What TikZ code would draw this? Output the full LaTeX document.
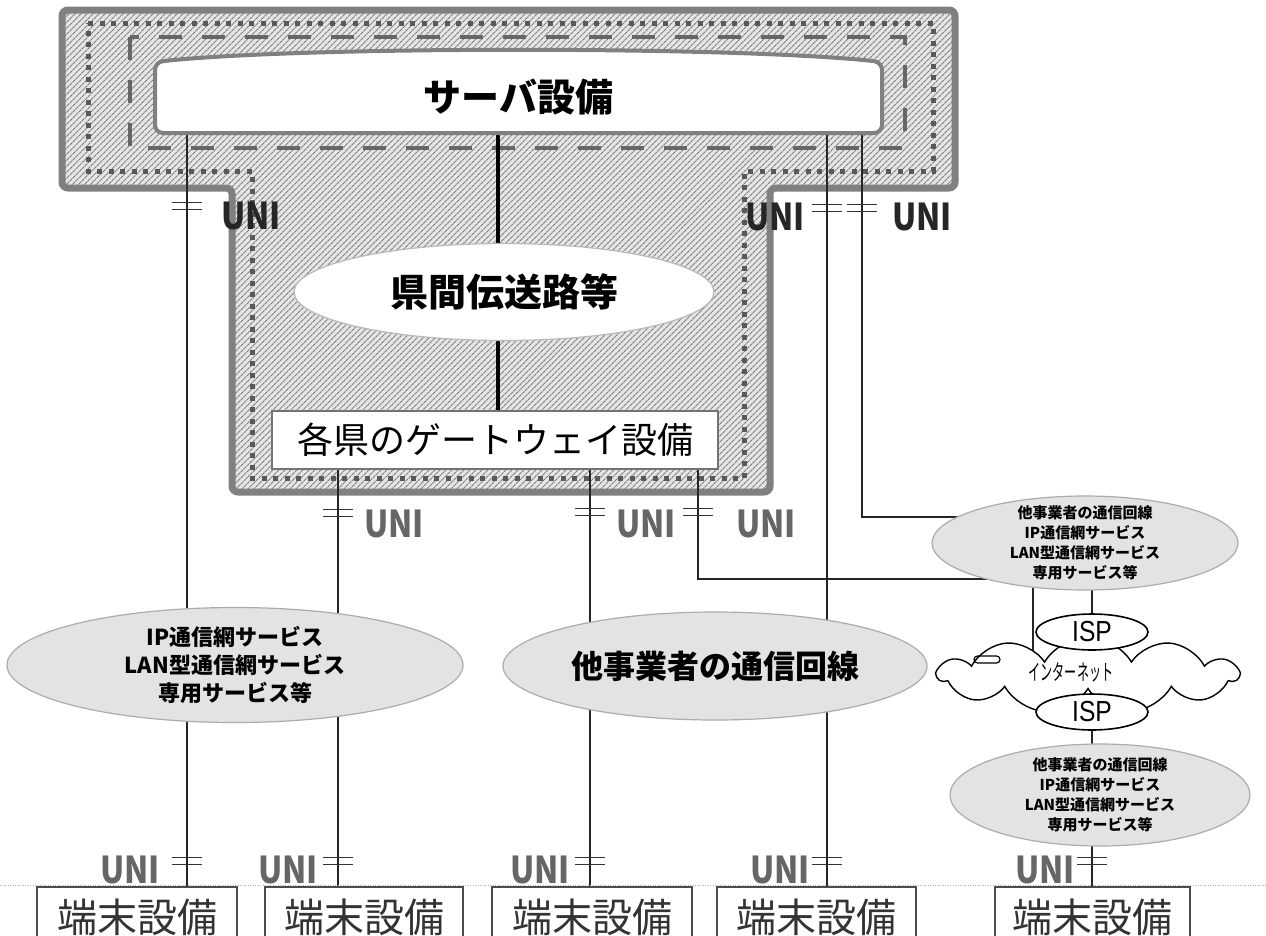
\documentclass[tikz,border=0pt]{standalone}
\usepackage{fontspec}
\newfontfamily\jp{Noto Sans CJK JP}
\newfontfamily\jpn{Noto Sans CJK JP}[FakeStretch=0.86]
\newfontfamily\lsans{Liberation Sans}[FakeStretch=0.85]
\usetikzlibrary{shapes.geometric,shapes.symbols,patterns.meta}
\pgfdeclarelayer{back}
\pgfdeclarelayer{wires}
\pgfsetlayers{back,wires,main}
\begin{document}
\begin{tikzpicture}[x=1pt,y=-1pt,
  wire/.style={line width=1.6pt, black!85},
  spine/.style={line width=4pt, black},
  netell/.style={ellipse, fill=gray!22, draw=gray!65, line width=1.2pt, inner sep=0pt},
  ispell/.style={ellipse, fill=white, draw=black, line width=1.6pt, minimum width=112pt, minimum height=36pt, inner sep=0pt, font=\lsans\fontsize{29}{29}\selectfont},
  termbox/.style={draw=black!70, line width=1.6pt, minimum height=60pt, inner sep=0pt, font=\jp\fontsize{40}{40}\selectfont, text=black!80},
  unitext/.style={inner sep=0pt, font=\jpn\bfseries\fontsize{37}{37}\selectfont, text=black!60},
  smalllbl/.style={align=center, inner sep=0pt, font=\jp\bfseries\fontsize{15}{20}\selectfont},
  unibar/.pic={\draw[line width=1.8pt, black!80] (-15,-3.5) -- (15,-3.5) (-15,3.5) -- (15,3.5);},
]
\useasboundingbox (0,0) rectangle (1266,935);
\clip (0,0) rectangle (1266,935);

% ---------- background: T-shaped hatched region ----------
\begin{pgfonlayer}{back}
\fill[white] (0,0) rectangle (1266,935);
\path[preaction={fill=gray!20}, pattern={Lines[angle=45,distance=4pt,line width=1.1pt]}, pattern color=black!50,
      draw=black!50, line width=7pt, rounded corners=6pt]
  (62,10) -- (955,10) -- (955,188) -- (770,188) -- (770,492) -- (232,492) -- (232,188) -- (62,188) -- cycle;
\draw[black!65, line width=5pt, dash pattern=on 5pt off 6.5pt]
  (88,23) -- (933,23) -- (933,171) -- (744,171) -- (744,478) -- (252,478) -- (252,171) -- (88,171) -- cycle;
\draw[black!60, line width=4pt, dash pattern=on 23pt off 20pt] (130,37) rectangle (905,148);
\end{pgfonlayer}

% ---------- server ----------
\draw[fill=white, draw=black!50, line width=4pt, rounded corners=8pt]
  (155,133) -- (155,62) .. controls (300,46) and (737,46) .. (882,62) -- (882,133) -- cycle;
\node[minimum width=727pt, minimum height=71pt, inner sep=0pt, font=\jp\bfseries\fontsize{38}{38}\selectfont] (server) at (518.5,97.5) {サーバ設備};

\node[ellipse, fill=white, draw=gray!55, line width=1.2pt, minimum width=420pt, minimum height=97pt, inner sep=0pt,
      font=\jp\bfseries\fontsize{38}{38}\selectfont] (kenkan) at (504,292) {県間伝送路等};

\node[fill=white, draw=black!55, line width=1.5pt, minimum width=446pt, minimum height=58pt, inner sep=0pt,
      font=\jp\fontsize{36}{36}\selectfont] (gw) at (495,440) {各県のゲートウェイ設備};

% ---------- networks ----------
\node[netell, minimum width=456pt, minimum height=115pt,
      label={[align=center, inner sep=0pt, font=\jp\bfseries\fontsize{22}{28}\selectfont]center:IP通信網サービス\\LAN型通信網サービス\\専用サービス等}] (ipnet) at (235,665) {};

\node[netell, minimum width=424pt, minimum height=108pt, font=\jp\bfseries\fontsize{32}{32}\selectfont] (other) at (715,666) {他事業者の通信回線};

\node[netell, minimum width=306pt, minimum height=94pt,
      label={[smalllbl]center:他事業者の通信回線\\IP通信網サービス\\LAN型通信網サービス\\専用サービス等}] (r1) at (1085,543) {};

\node[cloud, cloud puffs=11, cloud puff arc=120, aspect=3.9, draw=black, line width=1.4pt, fill=white,
      minimum width=300pt, minimum height=76pt, inner sep=0pt] (net) at (1088,675) {};
\draw[line width=1.2pt, rounded corners=3.5pt] (974,656) rectangle (1000,663);
\node[inner sep=0pt, font=\jp\fontsize{22}{22}\selectfont] (netlabel) at (1071,672) {\scalebox{0.55}[1]{インターネット}};

\node[ispell] (isp1) at (1092,632) {ISP};
\node[ispell] (isp2) at (1092,712) {ISP};

\node[netell, minimum width=300pt, minimum height=102pt,
      label={[smalllbl]center:他事業者の通信回線\\IP通信網サービス\\LAN型通信網サービス\\専用サービス等}] (r2) at (1100,795) {};

% ---------- terminals ----------
\draw[gray!60, line width=0.6pt, dash pattern=on 1pt off 1.5pt] (0,885) -- (1266,885);
\node[termbox, minimum width=200pt] (t1) at (137,917) {端末設備};
\node[termbox, minimum width=198pt] (t2) at (364,917) {端末設備};
\node[termbox, minimum width=200pt] (t3) at (592,917) {端末設備};
\node[termbox, minimum width=199pt] (t4) at (816.5,917) {端末設備};
\node[termbox, minimum width=195pt] (t5) at (1092.5,917) {端末設備};

% ---------- wire x positions ----------
\coordinate (L1) at (187,0);
\coordinate (L2) at (338,0);
\coordinate (L3) at (590,0);
\coordinate (L5) at (827,0);
\coordinate (L7) at (1092,0);
\coordinate (C) at (498,0);
\coordinate (R1a) at (1033,0);
\coordinate (j4) at (698,579);
\coordinate (j6) at (862,517);

\begin{pgfonlayer}{wires}
\draw[spine] (server.south -| C) -- (gw.north -| C);
\draw[wire] (server.south -| L1) -- (t1.north -| L1);
\draw[wire] (gw.south -| L2) -- (t2.north -| L2);
\draw[wire] (gw.south -| L3) -- (t3.north -| L3);
\draw[wire] (gw.south -| j4) -- (j4) -- (j4 -| r1.center);
\draw[wire] (server.south -| L5) -- (t4.north -| L5);
\draw[wire] (server.south -| j6) -- (j6) -- (j6 -| r1.center);
\draw[wire] (r1.center -| R1a) -- (net.center -| R1a);
\draw[wire] (r1.center -| isp1) -- (isp1);
\draw[wire] (isp2) -- (r2.center -| isp2);
\draw[wire] (r2.center -| L7) -- (t5.north -| L7);
\end{pgfonlayer}

% ---------- UNI markers ----------
\pic at (187,206) {unibar};
\node[unitext, anchor=west, text=black!85] (u1) at (221,216) {UNI};
\pic at (827,208) {unibar};
\node[unitext, anchor=east, text=black!85] (u2) at (805,217) {UNI};
\pic at (862,208) {unibar};
\node[unitext, anchor=west, text=black!85] (u3) at (892,217) {UNI};

\pic at (338,513) {unibar};
\node[unitext, anchor=west] (u4) at (364,524) {UNI};
\pic at (590,512) {unibar};
\node[unitext, anchor=west] (u5) at (616,524) {UNI};
\pic at (698,512) {unibar};
\node[unitext, anchor=west] (u6) at (736,524) {UNI};

\pic at (187,861) {unibar};
\node[unitext, anchor=east] (u7) at (160,870) {UNI};
\pic at (338,861) {unibar};
\node[unitext, anchor=east] (u8) at (318,870) {UNI};
\pic at (590,861) {unibar};
\node[unitext, anchor=east] (u9) at (570,870) {UNI};
\pic at (827,861) {unibar};
\node[unitext, anchor=east] (u10) at (810,870) {UNI};
\pic at (1092,861) {unibar};
\node[unitext, anchor=east] (u11) at (1075,870) {UNI};
\end{tikzpicture}
\end{document}
